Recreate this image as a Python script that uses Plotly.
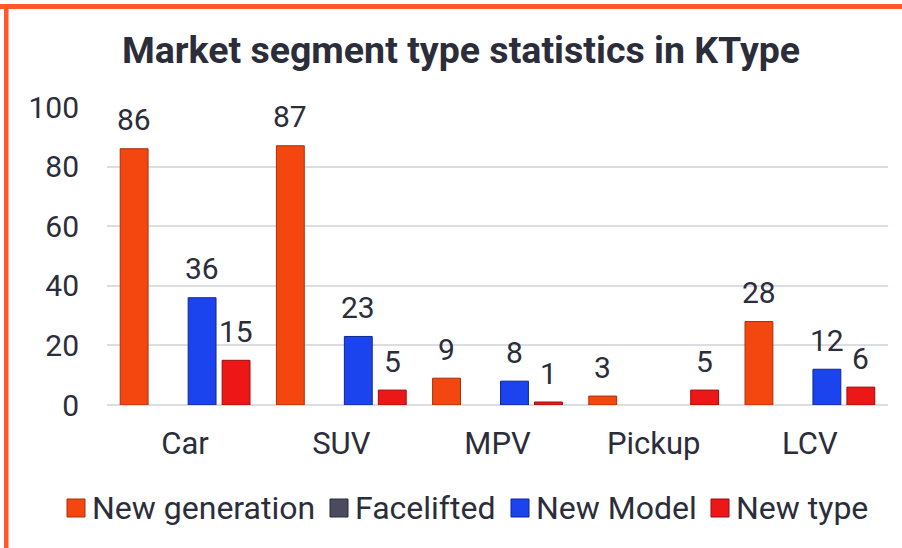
import plotly.graph_objects as go

categories = ["Car", "SUV", "MPV", "Pickup", "LCV"]
new_generation = [86, 87, 9, 3, 28]
facelifted = [0, 0, 0, 0, 0]
new_model = [36, 23, 8, 0, 12]
new_type = [15, 5, 1, 5, 6]
y_ticks = [0, 20, 40, 60, 80, 100]

series_names = ["New generation", "Facelifted", "New Model", "New type"]
series_values = [new_generation, facelifted, new_model, new_type]
series_colors = ["#f4470f", "#4b4b60", "#1c44ee", "#ee1717"]
series_edges = ["#a83008", "#2a2a38", "#0f2690", "#9a0c0c"]

W, H = 902, 548
ml, mr, mt, mb = 107, 14, 107, 143
pw, ph = W - ml - mr, H - mt - mb
text_color = "#2b2d3a"
font_family = "Roboto, Arial, sans-serif"
bargap = 0.13
label_size = 30

fig = go.Figure()
for name, vals, col, edge in zip(series_names, series_values, series_colors, series_edges):
    fig.add_trace(go.Bar(
        name=name, x=categories, y=vals, showlegend=False,
        marker=dict(color=col, line=dict(color=edge, width=[1 if v else 0 for v in vals])),
    ))

def px_x(p):
    return (p - ml) / pw

def px_y(p):
    return (H - mb - p) / ph

# data labels placed above each bar
n_series = len(series_names)
cat_px = pw / len(categories)
slot_px = cat_px * (1 - bargap) / n_series
annotations = []
for i, vals in enumerate(series_values):
    off = (i - (n_series - 1) / 2) * slot_px
    for c, v in zip(categories, vals):
        if not v:
            continue
        annotations.append(dict(
            x=c, y=v, xref="x", yref="y", text=str(v), showarrow=False,
            xshift=off, yshift=29, yanchor="middle", xanchor="center",
            font=dict(size=label_size, color=text_color, family=font_family),
        ))

shapes = [
    dict(type="rect", xref="paper", yref="paper", x0=px_x(0), x1=px_x(W), y0=px_y(9), y1=px_y(4),
         fillcolor="#fe5a2a", line=dict(width=0), layer="above"),
    dict(type="rect", xref="paper", yref="paper", x0=px_x(4), x1=px_x(8.5), y0=px_y(H), y1=px_y(4),
         fillcolor="#fe5a2a", line=dict(width=0), layer="above"),
]

# legend (square swatch + label) at the bottom
legend_x = [67, 330, 511, 711]
legend_cy = 508
sq = 18
for name, col, edge, lx in zip(series_names, series_colors, series_edges, legend_x):
    shapes.append(dict(type="rect", xref="paper", yref="paper",
                       x0=px_x(lx), x1=px_x(lx + sq), y0=px_y(legend_cy + sq / 2), y1=px_y(legend_cy - sq / 2),
                       fillcolor=col, line=dict(color=edge, width=1)))
    annotations.append(dict(x=px_x(lx + sq + 5), y=px_y(legend_cy), xref="paper", yref="paper",
                            text=name, showarrow=False, xanchor="left", yanchor="middle",
                            font=dict(size=32, color=text_color, family=font_family)))

fig.update_layout(
    width=W, height=H,
    margin=dict(l=ml, r=mr, t=mt, b=mb),
    paper_bgcolor="white", plot_bgcolor="white",
    font=dict(family=font_family, color=text_color, size=30),
    title=dict(text="<b>Market segment type statistics in KType</b>", x=461 / W, xanchor="center",
               y=1 - 50 / H, yanchor="middle", font=dict(size=37.5, color=text_color)),
    barmode="group", bargap=bargap, bargroupgap=0.18,
    showlegend=False,
    yaxis=dict(range=[0, 100], tickvals=y_ticks, showgrid=True, gridcolor="#dcdce3", gridwidth=2,
               zeroline=True, zerolinecolor="#dcdce3", zerolinewidth=2, showline=False,
               ticks="", tickfont=dict(size=30), ticklabelstandoff=27),
    xaxis=dict(showline=False, ticks="", tickfont=dict(size=31), ticklabelstandoff=17),
    shapes=shapes,
    annotations=annotations,
)
fig.write_html("out.html", config={"displayModeBar": False},
               post_script="document.body.style.margin='0';")
